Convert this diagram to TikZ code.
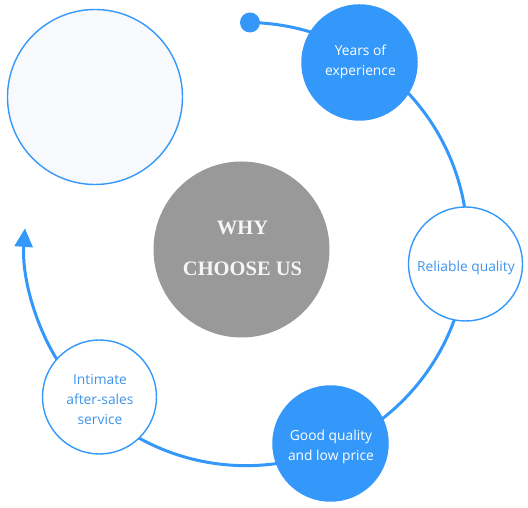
\documentclass[tikz,border=0pt]{standalone}
\usepackage{fontspec}
\setmainfont{Open Sans}
\newfontfamily\serifbold{Liberation Serif}
\usetikzlibrary{arrows.meta}
\definecolor{mainblue}{RGB}{52,152,250}
\definecolor{txtblue}{RGB}{62,148,236}
\definecolor{grayc}{RGB}{153,153,153}
\definecolor{paleface}{RGB}{248,249,252}
\definecolor{whytext}{RGB}{246,246,246}
\begin{document}
\begin{tikzpicture}[x=1pt,y=1pt,
  filledc/.style={circle, fill=mainblue, minimum size=116.5pt, inner sep=0pt},
  outlinec/.style={circle, draw=mainblue, line width=1.4pt, fill=white, minimum size=114pt, inner sep=0pt},
  labeltext/.style={anchor=base, align=center, inner sep=0pt, font=\fontsize{13.8}{20}\selectfont},
  arcline/.style={draw=mainblue, line width=3pt}]
\useasboundingbox (0,0) rectangle (528,508);
% blank circle
\node[circle, draw=mainblue, line width=1.4pt, fill=paleface, minimum size=175pt, inner sep=0pt] (blank) at (95,411) {};
% start dot and arc
\node[circle, fill=mainblue, minimum size=20pt, inner sep=0pt] (dot) at (250,485.5) {};
\draw[arcline, -{Triangle[length=18.5pt,width=18pt]}] (dot.center) arc[start angle=88.97, end angle=-184.06, radius=221.6];
% centre
\node[circle, fill=grayc, minimum size=176pt, inner sep=0pt] (why) at (241.5,258.5) {};
\node[anchor=base, align=center, inner sep=0pt, text=whytext, font=\serifbold\bfseries\fontsize{20.5}{41}\selectfont] (whylabel) at (242.5,232) {WHY\\CHOOSE US};
% item circles
\node[filledc] (years) at (359.5,445.5) {};
\node[labeltext, text=white] (yearslabel) at (360.5,432.7) {Years of\\experience};
\node[outlinec] (reliable) at (465.5,244) {};
\node[labeltext, text=txtblue] (reliablelabel) at (466,236.3) {Reliable quality};
\node[filledc] (good) at (330.5,64.5) {};
\node[labeltext, text=white] (goodlabel) at (331,47.3) {Good quality\\and low price};
\node[outlinec] (intimate) at (99.5,111) {};
\node[labeltext, text=txtblue] (intimatelabel) at (100,83) {Intimate\\after-sales\\service};
\end{tikzpicture}
\end{document}
